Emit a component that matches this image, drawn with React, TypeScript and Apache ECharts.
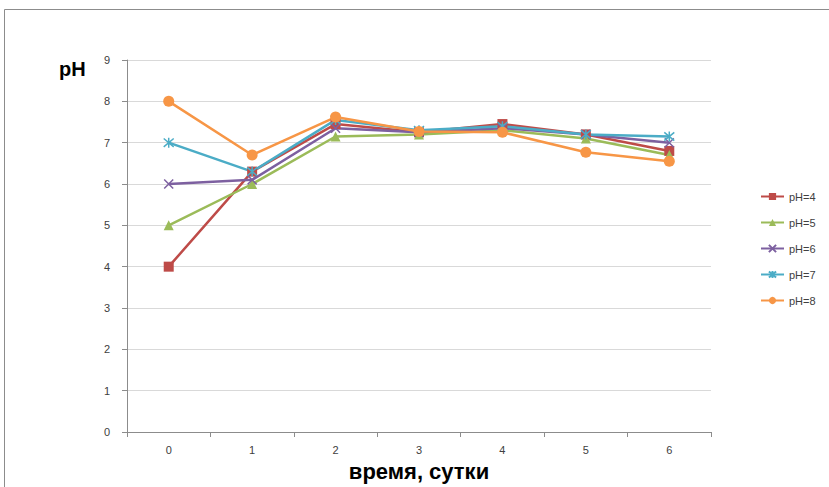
import React, { useEffect, useRef } from "react";
import * as echarts from "echarts";

const categories = ["0", "1", "2", "3", "4", "5", "6"];
const seriesNames = ["pH=4", "pH=5", "pH=6", "pH=7", "pH=8"];
const ph4 = [4.0, 6.3, 7.45, 7.25, 7.45, 7.2, 6.8];
const ph5 = [5.0, 6.0, 7.15, 7.2, 7.3, 7.1, 6.7];
const ph6 = [6.0, 6.1, 7.35, 7.25, 7.35, 7.2, 7.0];
const ph7 = [7.0, 6.3, 7.55, 7.3, 7.4, 7.2, 7.15];
const ph8 = [8.0, 6.7, 7.62, 7.27, 7.25, 6.77, 6.55];
const seriesData = [ph4, ph5, ph6, ph7, ph8];
const colors = ["#BE4B48", "#9BBB59", "#7D60A0", "#4BACC6", "#F79646"];
const symbols = [
  "rect",
  "triangle",
  "path://M0,0L10,10M10,0L0,10",
  "path://M0,0L10,10M10,0L0,10M5,-1L5,11",
  "circle",
];
const symbolSizes = [10, 10, 9, 10, 11];

export default function App() {
  const ref = useRef<HTMLDivElement>(null);
  useEffect(() => {
    if (!ref.current) return;
    const chart = echarts.init(ref.current, null, { renderer: "svg" });
    const font = "Liberation Sans";
    chart.setOption({
      animation: false,
      backgroundColor: "#ffffff",
      textStyle: { fontFamily: font },
      graphic: [
        {
          type: "rect",
          shape: { x: 4.5, y: 9.5, width: 900, height: 600 },
          style: { fill: "none", stroke: "#8c8c8c", lineWidth: 1 },
          silent: true,
        },
        {
          type: "text",
          left: 59,
          top: 59,
          style: { text: "pH", font: "bold 20px " + font, fill: "#000" },
        },
      ],
      legend: {
        orient: "vertical",
        left: 755,
        top: 186,
        itemGap: 15,
        itemWidth: 23,
        itemHeight: 9,
        textStyle: { fontSize: 11, color: "#404040", fontFamily: font },
        data: seriesNames,
      },
      grid: { left: 127, right: 118, top: 60, bottom: 52, containLabel: false },
      xAxis: {
        type: "category",
        data: categories,
        boundaryGap: true,
        name: "время, сутки",
        nameLocation: "middle",
        nameGap: 28,
        nameTextStyle: { fontSize: 22, fontWeight: "bold", color: "#000", fontFamily: font },
        axisLine: { lineStyle: { color: "#8c8c8c" } },
        axisTick: { show: true, length: 5, lineStyle: { color: "#8c8c8c" } },
        axisLabel: { fontSize: 11, color: "#404040", margin: 12 },
      },
      yAxis: {
        type: "value",
        min: 0,
        max: 9,
        interval: 1,
        axisLine: { show: true, lineStyle: { color: "#8c8c8c" } },
        axisTick: { show: true, length: 5, lineStyle: { color: "#8c8c8c" } },
        axisLabel: { fontSize: 11, color: "#404040", margin: 17 },
        splitLine: { lineStyle: { color: "#d9d9d9", width: 1 } },
      },
      series: seriesNames.map((name, i) => ({
        name,
        type: "line",
        data: seriesData[i],
        symbol: symbols[i],
        symbolSize: symbolSizes[i],
        showAllSymbol: true,
        lineStyle: { color: colors[i], width: 2.5 },
        itemStyle: {
          color: colors[i],
          borderColor: colors[i],
          borderWidth: i === 2 || i === 3 ? 1.5 : 0,
        },
      })),
    });
    return () => chart.dispose();
  }, []);
  return (
    <div
      ref={ref}
      style={{ position: "fixed", left: 0, top: 0, width: 829, height: 487 }}
    />
  );
}
